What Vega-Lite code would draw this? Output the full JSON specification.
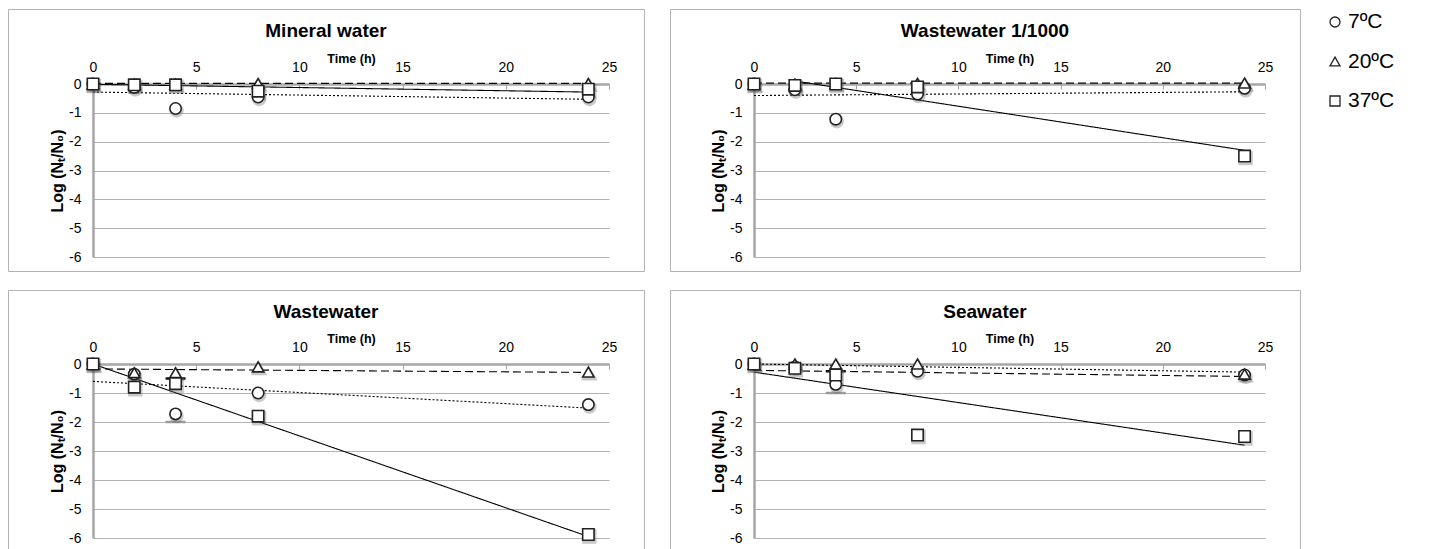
{
  "$schema": "https://vega.github.io/schema/vega-lite/v6.json",
  "padding": {"left": 7, "top": 8, "right": 0, "bottom": 0},
  "config": {
    "font": "Liberation Sans",
    "view": {"stroke": "#b3b3b3", "strokeWidth": 1},
    "title": {"font": "Liberation Sans", "fontSize": 19, "fontWeight": "bold", "color": "#000", "anchor": "middle"},
    "axis": {
      "labelFont": "Liberation Sans", "labelFontSize": 14, "labelColor": "#000",
      "titleFont": "Liberation Sans", "titleFontWeight": "bold", "titleColor": "#000",
      "domainColor": "#a6a6a6", "domainWidth": 2.5, "tickColor": "#a6a6a6",
      "gridColor": "#b3b3b3", "gridWidth": 1.2, "labelFlush": false
    }
  },
  "datasets": {
    "temps": [
      {"temp": "7ºC"},
      {"temp": "20ºC"},
      {"temp": "37ºC"}
    ],
    "points": [
      {"panel": "Mineral water", "temp": "7ºC", "t": 0, "v": 0},
      {"panel": "Mineral water", "temp": "7ºC", "t": 2, "v": -0.12},
      {"panel": "Mineral water", "temp": "7ºC", "t": 4, "v": -0.85},
      {"panel": "Mineral water", "temp": "7ºC", "t": 8, "v": -0.45},
      {"panel": "Mineral water", "temp": "7ºC", "t": 24, "v": -0.45},
      {"panel": "Mineral water", "temp": "20ºC", "t": 0, "v": 0},
      {"panel": "Mineral water", "temp": "20ºC", "t": 2, "v": 0},
      {"panel": "Mineral water", "temp": "20ºC", "t": 4, "v": 0},
      {"panel": "Mineral water", "temp": "20ºC", "t": 8, "v": 0.02},
      {"panel": "Mineral water", "temp": "20ºC", "t": 24, "v": 0.02},
      {"panel": "Mineral water", "temp": "37ºC", "t": 0, "v": 0},
      {"panel": "Mineral water", "temp": "37ºC", "t": 2, "v": -0.03},
      {"panel": "Mineral water", "temp": "37ºC", "t": 4, "v": -0.03},
      {"panel": "Mineral water", "temp": "37ºC", "t": 8, "v": -0.25},
      {"panel": "Mineral water", "temp": "37ºC", "t": 24, "v": -0.18},

      {"panel": "Wastewater 1/1000", "temp": "7ºC", "t": 0, "v": 0},
      {"panel": "Wastewater 1/1000", "temp": "7ºC", "t": 2, "v": -0.2},
      {"panel": "Wastewater 1/1000", "temp": "7ºC", "t": 4, "v": -1.22},
      {"panel": "Wastewater 1/1000", "temp": "7ºC", "t": 8, "v": -0.35},
      {"panel": "Wastewater 1/1000", "temp": "7ºC", "t": 24, "v": -0.15},
      {"panel": "Wastewater 1/1000", "temp": "20ºC", "t": 0, "v": 0},
      {"panel": "Wastewater 1/1000", "temp": "20ºC", "t": 2, "v": 0},
      {"panel": "Wastewater 1/1000", "temp": "20ºC", "t": 4, "v": 0.02},
      {"panel": "Wastewater 1/1000", "temp": "20ºC", "t": 8, "v": 0.02},
      {"panel": "Wastewater 1/1000", "temp": "20ºC", "t": 24, "v": 0.03},
      {"panel": "Wastewater 1/1000", "temp": "37ºC", "t": 0, "v": 0},
      {"panel": "Wastewater 1/1000", "temp": "37ºC", "t": 2, "v": -0.05},
      {"panel": "Wastewater 1/1000", "temp": "37ºC", "t": 4, "v": 0},
      {"panel": "Wastewater 1/1000", "temp": "37ºC", "t": 8, "v": -0.1},
      {"panel": "Wastewater 1/1000", "temp": "37ºC", "t": 24, "v": -2.5},

      {"panel": "Wastewater", "temp": "7ºC", "t": 0, "v": 0},
      {"panel": "Wastewater", "temp": "7ºC", "t": 2, "v": -0.35},
      {"panel": "Wastewater", "temp": "7ºC", "t": 4, "v": -1.72},
      {"panel": "Wastewater", "temp": "7ºC", "t": 8, "v": -1.0},
      {"panel": "Wastewater", "temp": "7ºC", "t": 24, "v": -1.4},
      {"panel": "Wastewater", "temp": "20ºC", "t": 0, "v": 0},
      {"panel": "Wastewater", "temp": "20ºC", "t": 2, "v": -0.3},
      {"panel": "Wastewater", "temp": "20ºC", "t": 4, "v": -0.3},
      {"panel": "Wastewater", "temp": "20ºC", "t": 8, "v": -0.1},
      {"panel": "Wastewater", "temp": "20ºC", "t": 24, "v": -0.28},
      {"panel": "Wastewater", "temp": "37ºC", "t": 0, "v": 0},
      {"panel": "Wastewater", "temp": "37ºC", "t": 2, "v": -0.8},
      {"panel": "Wastewater", "temp": "37ºC", "t": 4, "v": -0.68},
      {"panel": "Wastewater", "temp": "37ºC", "t": 8, "v": -1.8},
      {"panel": "Wastewater", "temp": "37ºC", "t": 24, "v": -5.88},

      {"panel": "Seawater", "temp": "7ºC", "t": 0, "v": 0},
      {"panel": "Seawater", "temp": "7ºC", "t": 2, "v": -0.1},
      {"panel": "Seawater", "temp": "7ºC", "t": 4, "v": -0.7},
      {"panel": "Seawater", "temp": "7ºC", "t": 8, "v": -0.25},
      {"panel": "Seawater", "temp": "7ºC", "t": 24, "v": -0.38},
      {"panel": "Seawater", "temp": "20ºC", "t": 0, "v": 0},
      {"panel": "Seawater", "temp": "20ºC", "t": 2, "v": 0},
      {"panel": "Seawater", "temp": "20ºC", "t": 4, "v": 0},
      {"panel": "Seawater", "temp": "20ºC", "t": 8, "v": 0},
      {"panel": "Seawater", "temp": "20ºC", "t": 24, "v": -0.35},
      {"panel": "Seawater", "temp": "37ºC", "t": 0, "v": 0},
      {"panel": "Seawater", "temp": "37ºC", "t": 2, "v": -0.15},
      {"panel": "Seawater", "temp": "37ºC", "t": 4, "v": -0.38},
      {"panel": "Seawater", "temp": "37ºC", "t": 8, "v": -2.45},
      {"panel": "Seawater", "temp": "37ºC", "t": 24, "v": -2.5}
    ],
    "trends": [
      {"panel": "Mineral water", "temp": "7ºC", "t": 0, "v": -0.28},
      {"panel": "Mineral water", "temp": "7ºC", "t": 24, "v": -0.53},
      {"panel": "Mineral water", "temp": "20ºC", "t": 0, "v": 0.02},
      {"panel": "Mineral water", "temp": "20ºC", "t": 24, "v": 0.02},
      {"panel": "Mineral water", "temp": "37ºC", "t": 0, "v": -0.01},
      {"panel": "Mineral water", "temp": "37ºC", "t": 24, "v": -0.28},
      {"panel": "Wastewater 1/1000", "temp": "7ºC", "t": 0, "v": -0.4},
      {"panel": "Wastewater 1/1000", "temp": "7ºC", "t": 24, "v": -0.27},
      {"panel": "Wastewater 1/1000", "temp": "20ºC", "t": 0, "v": 0.03},
      {"panel": "Wastewater 1/1000", "temp": "20ºC", "t": 24, "v": 0.03},
      {"panel": "Wastewater 1/1000", "temp": "37ºC", "t": 2.3, "v": 0.07},
      {"panel": "Wastewater 1/1000", "temp": "37ºC", "t": 24, "v": -2.3},
      {"panel": "Wastewater", "temp": "7ºC", "t": 0, "v": -0.6},
      {"panel": "Wastewater", "temp": "7ºC", "t": 24, "v": -1.52},
      {"panel": "Wastewater", "temp": "20ºC", "t": 0, "v": -0.17},
      {"panel": "Wastewater", "temp": "20ºC", "t": 24, "v": -0.29},
      {"panel": "Wastewater", "temp": "37ºC", "t": 0, "v": 0},
      {"panel": "Wastewater", "temp": "37ºC", "t": 24, "v": -5.95},
      {"panel": "Seawater", "temp": "7ºC", "t": 0, "v": 0},
      {"panel": "Seawater", "temp": "7ºC", "t": 24, "v": -0.28},
      {"panel": "Seawater", "temp": "20ºC", "t": 0, "v": -0.22},
      {"panel": "Seawater", "temp": "20ºC", "t": 24, "v": -0.43},
      {"panel": "Seawater", "temp": "37ºC", "t": 0, "v": -0.28},
      {"panel": "Seawater", "temp": "37ºC", "t": 24, "v": -2.8}
    ],
    "caps": [
      {"panel": "Wastewater", "temp": "7ºC", "t": 4, "v": -2.0},
      {"panel": "Wastewater", "temp": "37ºC", "t": 4, "v": -0.5},
      {"panel": "Seawater", "temp": "7ºC", "t": 4, "v": -1.0},
      {"panel": "Seawater", "temp": "37ºC", "t": 4, "v": -0.25}
    ]
  },
  "spacing": 24,
  "hconcat": [
    {
      "spacing": 17,
      "vconcat": [
        {
          "spacing": 24,
          "hconcat": [
            {
              "width": 636, "height": 262,
              "title": {"text": "Mineral water", "offset": -32},
              "encoding": {
                "x": {"field": "t", "type": "quantitative", "scale": {"domain": [0, 25], "range": [85, 601], "nice": false, "zero": false},
                      "axis": {"orient": "top", "offset": -75, "values": [0, 5, 10, 15, 20, 25], "title": "Time (h)", "grid": false, "tickSize": -5, "labelPadding": 15, "titleFontSize": 12.5, "titleY": -22, "titleBaseline": "alphabetic"}},
                "y": {"field": "v", "type": "quantitative", "scale": {"domain": [-6, 0], "range": [248, 75], "nice": false},
                      "axis": {"orient": "left", "offset": -85, "values": [0, -1, -2, -3, -4, -5, -6], "labelExpr": "toString(datum.value)", "ticks": false, "labelPadding": 12, "title": "Log (Nₜ/N₀)", "titleFontSize": 16, "titleX": -36, "titleBaseline": "middle"}}
              },
              "layer": [
                {"data": {"name": "trends"}, "transform": [{"filter": "datum.panel === 'Mineral water'"}],
                 "mark": {"type": "line", "color": "black", "strokeWidth": 1.1},
                 "encoding": {"strokeDash": {"field": "temp", "type": "nominal", "scale": {"domain": ["7ºC", "20ºC", "37ºC"], "range": [[2, 2], [8, 4], [1, 0]]}, "legend": null}}},
                {"data": {"name": "points"}, "transform": [{"filter": "datum.panel === 'Mineral water'"}],
                 "mark": {"type": "point", "filled": true, "fill": "#666", "stroke": "#666", "strokeWidth": 3, "size": 130, "opacity": 0.35, "xOffset": 1, "yOffset": 2},
                 "encoding": {"shape": {"field": "temp", "type": "nominal", "scale": {"domain": ["7ºC", "20ºC", "37ºC"], "range": ["circle", "triangle-up", "square"]}, "legend": null}}},
                {"data": {"name": "points"}, "transform": [{"filter": "datum.panel === 'Mineral water'"}],
                 "mark": {"type": "point", "filled": true, "fill": "white", "stroke": "#222", "strokeWidth": 1.6, "size": 130, "opacity": 1},
                 "encoding": {"shape": {"field": "temp", "type": "nominal", "scale": {"domain": ["7ºC", "20ºC", "37ºC"], "range": ["circle", "triangle-up", "square"]}, "legend": null}}}
              ]
            },
            {
              "width": 630, "height": 262,
              "title": {"text": "Wastewater 1/1000", "offset": -32},
              "encoding": {
                "x": {"field": "t", "type": "quantitative", "scale": {"domain": [0, 25], "range": [84, 595], "nice": false, "zero": false},
                      "axis": {"orient": "top", "offset": -75, "values": [0, 5, 10, 15, 20, 25], "title": "Time (h)", "grid": false, "tickSize": -5, "labelPadding": 15, "titleFontSize": 12.5, "titleY": -22, "titleBaseline": "alphabetic"}},
                "y": {"field": "v", "type": "quantitative", "scale": {"domain": [-6, 0], "range": [248, 75], "nice": false},
                      "axis": {"orient": "left", "offset": -84, "values": [0, -1, -2, -3, -4, -5, -6], "labelExpr": "toString(datum.value)", "ticks": false, "labelPadding": 12, "title": "Log (Nₜ/N₀)", "titleFontSize": 16, "titleX": -36, "titleBaseline": "middle"}}
              },
              "layer": [
                {"data": {"name": "trends"}, "transform": [{"filter": "datum.panel === 'Wastewater 1/1000'"}],
                 "mark": {"type": "line", "color": "black", "strokeWidth": 1.1},
                 "encoding": {"strokeDash": {"field": "temp", "type": "nominal", "scale": {"domain": ["7ºC", "20ºC", "37ºC"], "range": [[2, 2], [8, 4], [1, 0]]}, "legend": null}}},
                {"data": {"name": "points"}, "transform": [{"filter": "datum.panel === 'Wastewater 1/1000'"}],
                 "mark": {"type": "point", "filled": true, "fill": "#666", "stroke": "#666", "strokeWidth": 3, "size": 130, "opacity": 0.35, "xOffset": 1, "yOffset": 2},
                 "encoding": {"shape": {"field": "temp", "type": "nominal", "scale": {"domain": ["7ºC", "20ºC", "37ºC"], "range": ["circle", "triangle-up", "square"]}, "legend": null}}},
                {"data": {"name": "points"}, "transform": [{"filter": "datum.panel === 'Wastewater 1/1000'"}],
                 "mark": {"type": "point", "filled": true, "fill": "white", "stroke": "#222", "strokeWidth": 1.6, "size": 130, "opacity": 1},
                 "encoding": {"shape": {"field": "temp", "type": "nominal", "scale": {"domain": ["7ºC", "20ºC", "37ºC"], "range": ["circle", "triangle-up", "square"]}, "legend": null}}}
              ]
            }
          ]
        },
        {
          "spacing": 24,
          "hconcat": [
            {
              "width": 636, "height": 262,
              "title": {"text": "Wastewater", "offset": -32},
              "encoding": {
                "x": {"field": "t", "type": "quantitative", "scale": {"domain": [0, 25], "range": [85, 601], "nice": false, "zero": false},
                      "axis": {"orient": "top", "offset": -74, "values": [0, 5, 10, 15, 20, 25], "title": "Time (h)", "grid": false, "tickSize": -5, "labelPadding": 15, "titleFontSize": 12.5, "titleY": -22, "titleBaseline": "alphabetic"}},
                "y": {"field": "v", "type": "quantitative", "scale": {"domain": [-6, 0], "range": [248, 74], "nice": false},
                      "axis": {"orient": "left", "offset": -85, "values": [0, -1, -2, -3, -4, -5, -6], "labelExpr": "toString(datum.value)", "ticks": false, "labelPadding": 12, "title": "Log (Nₜ/N₀)", "titleFontSize": 16, "titleX": -36, "titleBaseline": "middle"}}
              },
              "layer": [
                {"data": {"name": "trends"}, "transform": [{"filter": "datum.panel === 'Wastewater'"}],
                 "mark": {"type": "line", "color": "black", "strokeWidth": 1.1},
                 "encoding": {"strokeDash": {"field": "temp", "type": "nominal", "scale": {"domain": ["7ºC", "20ºC", "37ºC"], "range": [[2, 2], [8, 4], [1, 0]]}, "legend": null}}},
                {"data": {"name": "caps"}, "transform": [{"filter": "datum.panel === 'Wastewater'"}],
                 "mark": {"type": "tick", "orient": "horizontal", "size": 20, "thickness": 2.5, "opacity": 1},
                 "encoding": {"color": {"field": "temp", "type": "nominal", "scale": {"domain": ["7ºC", "37ºC"], "range": ["#9a9a9a", "#111111"]}, "legend": null}}},
                {"data": {"name": "points"}, "transform": [{"filter": "datum.panel === 'Wastewater'"}],
                 "mark": {"type": "point", "filled": true, "fill": "#666", "stroke": "#666", "strokeWidth": 3, "size": 130, "opacity": 0.35, "xOffset": 1, "yOffset": 2},
                 "encoding": {"shape": {"field": "temp", "type": "nominal", "scale": {"domain": ["7ºC", "20ºC", "37ºC"], "range": ["circle", "triangle-up", "square"]}, "legend": null}}},
                {"data": {"name": "points"}, "transform": [{"filter": "datum.panel === 'Wastewater'"}],
                 "mark": {"type": "point", "filled": true, "fill": "white", "stroke": "#222", "strokeWidth": 1.6, "size": 130, "opacity": 1},
                 "encoding": {"shape": {"field": "temp", "type": "nominal", "scale": {"domain": ["7ºC", "20ºC", "37ºC"], "range": ["circle", "triangle-up", "square"]}, "legend": null}}}
              ]
            },
            {
              "width": 630, "height": 262,
              "title": {"text": "Seawater", "offset": -32},
              "encoding": {
                "x": {"field": "t", "type": "quantitative", "scale": {"domain": [0, 25], "range": [84, 595], "nice": false, "zero": false},
                      "axis": {"orient": "top", "offset": -74, "values": [0, 5, 10, 15, 20, 25], "title": "Time (h)", "grid": false, "tickSize": -5, "labelPadding": 15, "titleFontSize": 12.5, "titleY": -22, "titleBaseline": "alphabetic"}},
                "y": {"field": "v", "type": "quantitative", "scale": {"domain": [-6, 0], "range": [248, 74], "nice": false},
                      "axis": {"orient": "left", "offset": -84, "values": [0, -1, -2, -3, -4, -5, -6], "labelExpr": "toString(datum.value)", "ticks": false, "labelPadding": 12, "title": "Log (Nₜ/N₀)", "titleFontSize": 16, "titleX": -36, "titleBaseline": "middle"}}
              },
              "layer": [
                {"data": {"name": "trends"}, "transform": [{"filter": "datum.panel === 'Seawater'"}],
                 "mark": {"type": "line", "color": "black", "strokeWidth": 1.1},
                 "encoding": {"strokeDash": {"field": "temp", "type": "nominal", "scale": {"domain": ["7ºC", "20ºC", "37ºC"], "range": [[2, 2], [8, 4], [1, 0]]}, "legend": null}}},
                {"data": {"name": "caps"}, "transform": [{"filter": "datum.panel === 'Seawater'"}],
                 "mark": {"type": "tick", "orient": "horizontal", "size": 20, "thickness": 2.5, "opacity": 1},
                 "encoding": {"color": {"field": "temp", "type": "nominal", "scale": {"domain": ["7ºC", "37ºC"], "range": ["#9a9a9a", "#111111"]}, "legend": null}}},
                {"data": {"name": "points"}, "transform": [{"filter": "datum.panel === 'Seawater'"}],
                 "mark": {"type": "point", "filled": true, "fill": "#666", "stroke": "#666", "strokeWidth": 3, "size": 130, "opacity": 0.35, "xOffset": 1, "yOffset": 2},
                 "encoding": {"shape": {"field": "temp", "type": "nominal", "scale": {"domain": ["7ºC", "20ºC", "37ºC"], "range": ["circle", "triangle-up", "square"]}, "legend": null}}},
                {"data": {"name": "points"}, "transform": [{"filter": "datum.panel === 'Seawater'"}],
                 "mark": {"type": "point", "filled": true, "fill": "white", "stroke": "#222", "strokeWidth": 1.6, "size": 130, "opacity": 1},
                 "encoding": {"shape": {"field": "temp", "type": "nominal", "scale": {"domain": ["7ºC", "20ºC", "37ºC"], "range": ["circle", "triangle-up", "square"]}, "legend": null}}}
              ]
            }
          ]
        }
      ]
    },
    {
      "width": 20, "height": 110,
      "view": {"stroke": null},
      "data": {"name": "temps"},
      "encoding": {
        "y": {"field": "temp", "type": "nominal", "scale": {"type": "point", "domain": ["7ºC", "20ºC", "37ºC"], "range": [13, 92], "padding": 0}, "axis": null}
      },
      "layer": [
        {"mark": {"type": "point", "filled": true, "fill": "white", "stroke": "#222", "strokeWidth": 1.3, "size": 100, "opacity": 1},
         "encoding": {"shape": {"field": "temp", "type": "nominal", "scale": {"domain": ["7ºC", "20ºC", "37ºC"], "range": ["circle", "triangle-up", "square"]}, "legend": null}}},
        {"mark": {"type": "text", "align": "left", "baseline": "middle", "dx": 13, "fontSize": 21, "font": "Liberation Sans", "color": "#000"},
         "encoding": {"text": {"field": "temp", "type": "nominal"}}}
      ]
    }
  ]
}
